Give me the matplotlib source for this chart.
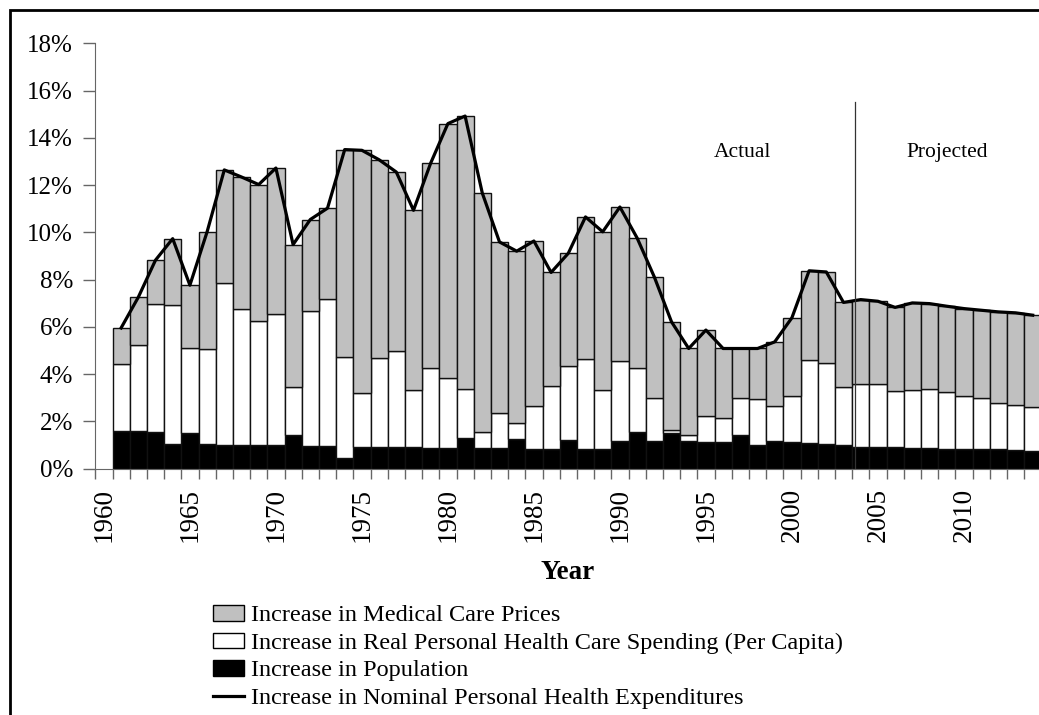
import matplotlib
matplotlib.use("Agg")
import matplotlib.pyplot as plt
from matplotlib.patches import Patch, Rectangle
from matplotlib.lines import Line2D
import numpy as np

years = list(range(1961, 2015))

# increase in population (black part)
population = [1.60, 1.57, 1.56, 1.04, 1.51, 1.02, 1.00, 0.98, 0.98, 0.98,
              1.43, 0.95, 0.95, 0.46, 0.92, 0.92, 0.91, 0.90, 0.88, 0.88,
              1.30, 0.88, 0.85, 1.25, 0.83, 0.83, 1.22, 0.81, 0.81, 1.18,
              1.56, 1.16, 1.51, 1.15, 1.11, 1.11, 1.43, 1.01, 1.18, 1.12,
              1.06, 1.04, 0.99, 0.91, 0.91, 0.90, 0.85, 0.85, 0.84, 0.82,
              0.81, 0.82, 0.78, 0.75]

# increase in real per capita spending (white part)
real_spending = [2.82, 3.65, 5.42, 5.90, 3.59, 4.05, 6.86, 5.77, 5.27, 5.54,
                 2.03, 5.70, 6.23, 4.27, 2.29, 3.74, 4.07, 2.42, 3.38, 2.93,
                 2.05, 0.65, 1.48, 0.69, 1.81, 2.67, 3.13, 3.82, 2.51, 3.37,
                 2.70, 1.81, 0.14, 0.25, 1.11, 1.04, 1.57, 1.93, 1.46, 1.95,
                 3.54, 3.41, 2.47, 2.65, 2.65, 2.38, 2.47, 2.53, 2.40, 2.26,
                 2.16, 1.96, 1.91, 1.86]

# increase in medical care prices (gray part)
prices = [1.53, 2.03, 1.84, 2.79, 2.66, 4.95, 4.78, 5.59, 5.77, 6.20,
          6.02, 3.89, 3.84, 8.77, 10.26, 8.41, 7.57, 7.61, 8.67, 10.79,
          11.57, 10.13, 7.26, 7.26, 6.99, 4.80, 4.76, 6.02, 6.70, 6.52,
          5.50, 5.14, 4.56, 3.68, 3.64, 2.93, 2.08, 2.14, 2.72, 3.31,
          3.77, 3.87, 3.57, 3.59, 3.52, 3.54, 3.69, 3.60, 3.63, 3.69,
          3.73, 3.85, 3.90, 3.88]

# nominal personal health expenditures growth (line)
nominal = [5.95, 7.25, 8.82, 9.73, 7.76, 10.02, 12.64, 12.34, 12.02, 12.72,
           9.48, 10.54, 11.02, 13.50, 13.47, 13.07, 12.55, 10.93, 12.93, 14.60,
           14.92, 11.66, 9.59, 9.20, 9.63, 8.30, 9.11, 10.65, 10.02, 11.07,
           9.76, 8.11, 6.21, 5.08, 5.86, 5.08, 5.08, 5.08, 5.36, 6.38,
           8.37, 8.32, 7.03, 7.15, 7.08, 6.82, 7.01, 6.98, 6.87, 6.77,
           6.70, 6.63, 6.59, 6.49]

label_years = [1960, 1965, 1970, 1975, 1980, 1985, 1990, 1995, 2000, 2005, 2010]
y_ticks = [0, 2, 4, 6, 8, 10, 12, 14, 16, 18]

plt.rcParams['font.family'] = ['Liberation Serif', 'DejaVu Serif']

fig = plt.figure(figsize=(10.39, 7.15), dpi=100)
ax = fig.add_axes([95.3 / 1039, 1 - 468.5 / 715, 946 / 1039, 425.2 / 715])

pop = np.array(population)
real = np.array(real_spending)
price = np.array(prices)

ax.bar(years, pop, width=1.0, color='black', edgecolor='#111111', linewidth=1.0, zorder=2)
ax.bar(years, real, width=1.0, bottom=pop, color='white', edgecolor='#111111', linewidth=1.0, zorder=2)
ax.bar(years, price, width=1.0, bottom=pop + real, color='#c0c0c0', edgecolor='#111111', linewidth=1.0, zorder=2)
ax.plot(years, nominal, color='black', linewidth=2.3, zorder=3, solid_joinstyle='round')

# actual / projected divider
ax.plot([2003.65, 2003.65], [0, 15.5], color='#333333', linewidth=0.9, zorder=4)
ax.text(1997.1, 13.38, 'Actual', fontsize=15.5, ha='center', va='center')
ax.text(2009.05, 13.38, 'Projected', fontsize=15.5, ha='center', va='center')

ax.set_xlim(1959.5, 2014.5)
ax.set_ylim(0, 18)

ax.set_yticks(y_ticks)
ax.set_yticklabels([str(t) + '%' for t in y_ticks], fontsize=18)
ax.tick_params(axis='y', direction='out', length=9, width=1, color='#666666', pad=7)

# ticks between categories, labels centred on categories
ax.set_xticks(np.arange(1959.5, 2015, 1.0), minor=True)
ax.set_xticks(label_years)
ax.set_xticklabels([str(y) for y in label_years], rotation=90, fontsize=19.5)
ax.tick_params(axis='x', which='major', length=0, pad=14)
ax.tick_params(axis='x', which='minor', direction='out', length=7, width=1, color='#666666')

for s in ['top', 'right']:
    ax.spines[s].set_visible(False)
ax.spines['left'].set_color('#666666')
ax.spines['bottom'].set_color('#666666')

fig.text(568 / 1039, 1 - 579 / 715, 'Year', fontsize=19.5, fontweight='bold', ha='center', va='baseline')

handles = [Patch(facecolor='#c0c0c0', edgecolor='black', linewidth=1.0),
           Patch(facecolor='white', edgecolor='black', linewidth=1.0),
           Patch(facecolor='black', edgecolor='black', linewidth=1.0),
           Line2D([], [], color='black', linewidth=2.3)]
labels = ['Increase in Medical Care Prices',
          'Increase in Real Personal Health Care Spending (Per Capita)',
          'Increase in Population',
          'Increase in Nominal Personal Health Expenditures']
fig.legend(handles, labels, loc='upper left', bbox_to_anchor=(213 / 1039, 1 - 605 / 715),
           frameon=False, fontsize=17.5, borderpad=0, borderaxespad=0,
           handlelength=1.27, handleheight=0.62, handletextpad=0.3, labelspacing=0.25)

# chart area border (cut off at right and bottom)
fig.patches.append(Rectangle((9.5 / 1039, -0.1), 1.2, 1.1 - 9.5 / 715, transform=fig.transFigure,
                             fill=False, edgecolor='black', linewidth=2))

fig.savefig('out.png', dpi=100)
